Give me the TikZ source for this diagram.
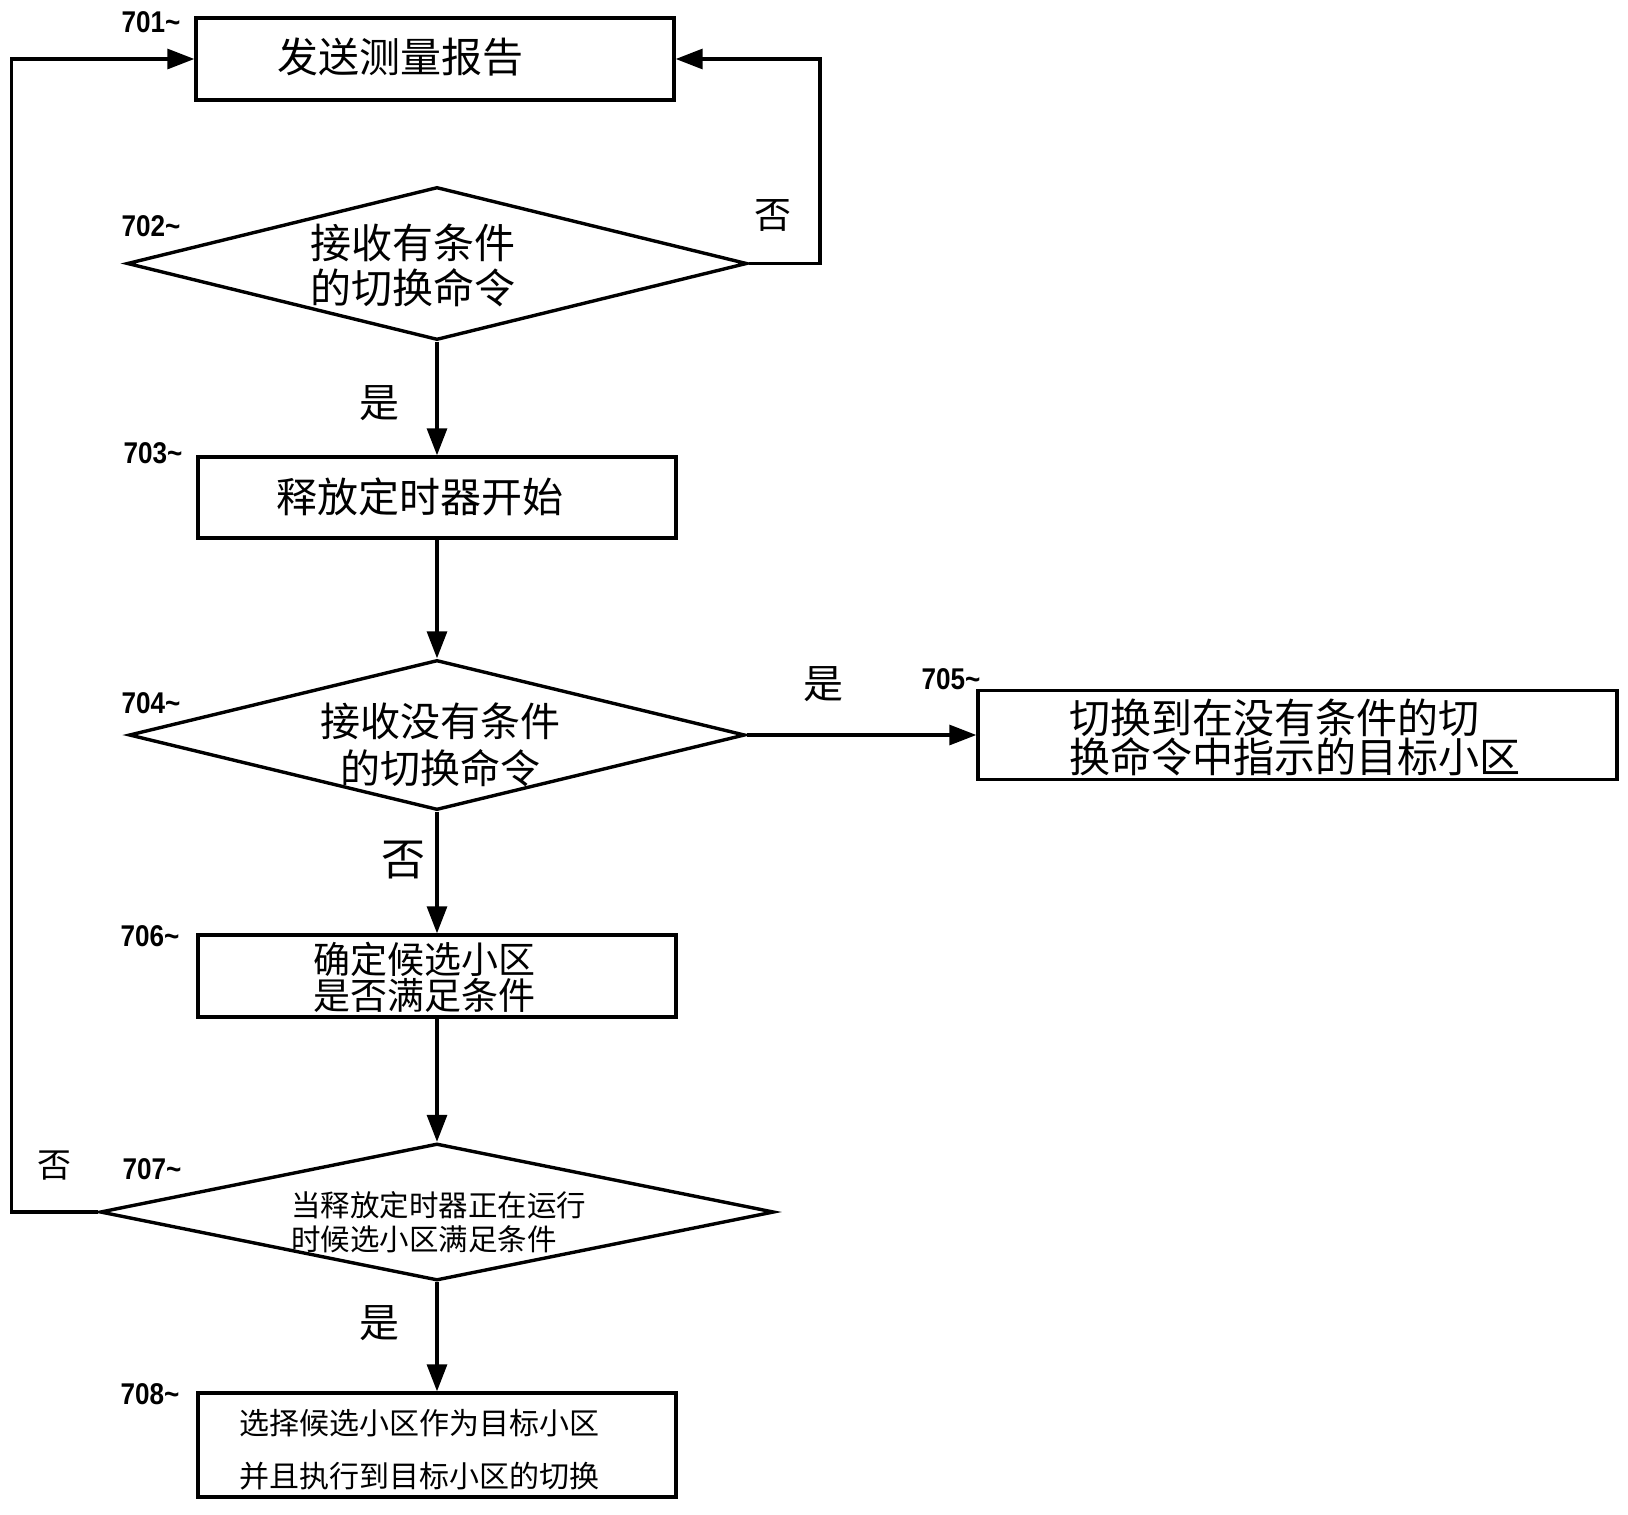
\documentclass[tikz,border=0pt]{standalone}
\usepackage{fontspec}
\newfontfamily\cjk{Noto Sans CJK SC}
\newfontfamily\numfont{Liberation Sans}
\usetikzlibrary{arrows.meta,shapes.geometric}
\tikzset{
  boxnode/.style={draw, line width=3.4pt, rectangle, inner sep=0pt, minimum width=478pt},
  decnode/.style={draw, line width=3.4pt, diamond, inner sep=0pt},
  txt/.style={inner sep=0pt, align=center},
  steplabel/.style={inner sep=0pt, xscale=0.87, transform shape, font=\numfont\bfseries\fontsize{30}{32}\selectfont},
  arr/.style={line width=3.2pt, -{Triangle[length=27pt,width=20pt]}},
  plain/.style={line width=3.2pt}
}
\begin{document}
\begin{tikzpicture}[x=1pt,y=-1pt]
\useasboundingbox (0,0) rectangle (1628,1515);
\fill[white] (0,0) rectangle (1628,1515);

% boxes
\node[boxnode, minimum height=82pt] (b701) at (435,59) {};
\node[boxnode, minimum height=81pt] (b703) at (437,497.5) {};
\node[boxnode, minimum width=639pt, minimum height=89pt] (b705) at (1297.5,735) {};
\node[boxnode, minimum height=82pt] (b706) at (437,976) {};
\node[boxnode, minimum height=104pt] (b708) at (437,1445) {};

% diamonds
\node[decnode, minimum width=620pt, minimum height=153pt] (d702) at (437,263.5) {};
\node[decnode, minimum width=616pt, minimum height=150pt] (d704) at (437,735) {};
\node[decnode, minimum width=674pt, minimum height=137pt] (d707) at (437,1212) {};

% texts
\node[txt, font=\cjk\fontsize{41}{45}\selectfont] (t701) at (400,57) {发送测量报告};
\node[txt, font=\cjk\fontsize{41}{45}\selectfont] (t702) at (413,265.5) {接收有条件\\的切换命令};
\node[txt, font=\cjk\fontsize{41}{45}\selectfont] (t703) at (420,497) {释放定时器开始};
\node[txt, font=\cjk\fontsize{40}{47}\selectfont] (t704) at (440,744.5) {接收没有条件\\的切换命令};
\node[txt, align=left, anchor=west, font=\cjk\fontsize{41}{38}\selectfont] (t705) at (1069,737.5) {切换到在没有条件的切\\换命令中指示的目标小区};
\node[txt, font=\cjk\fontsize{37}{36}\selectfont] (t706) at (424,977.5) {确定候选小区\\是否满足条件};
\node[txt, align=left, anchor=west, font=\cjk\fontsize{29.5}{34}\selectfont] (t707) at (291,1222) {当释放定时器正在运行\\时候选小区满足条件};
\node[txt, font=\cjk\fontsize{30}{53}\selectfont] (t708) at (419,1449.5) {选择候选小区作为目标小区\\并且执行到目标小区的切换};

% step labels
\node[steplabel] (l701) at (151,22) {701\string~};
\node[steplabel] (l702) at (151,226) {702\string~};
\node[steplabel] (l703) at (153,453) {703\string~};
\node[steplabel] (l704) at (151,703) {704\string~};
\node[steplabel] (l705) at (951,679) {705\string~};
\node[steplabel] (l706) at (150,936) {706\string~};
\node[steplabel] (l707) at (152,1169) {707\string~};
\node[steplabel] (l708) at (150,1394) {708\string~};

% yes/no labels
\node[txt, font=\cjk\fontsize{37}{40}\selectfont] (n702) at (773,215) {否};
\node[txt, font=\cjk\fontsize{40}{44}\selectfont] (y702) at (379,403) {是};
\node[txt, font=\cjk\fontsize{40}{44}\selectfont] (y704) at (823,684) {是};
\node[txt, font=\cjk\fontsize{44}{48}\selectfont] (n704) at (403,860) {否};
\node[txt, font=\cjk\fontsize{34}{38}\selectfont] (n707) at (54,1166) {否};
\node[txt, font=\cjk\fontsize{40}{44}\selectfont] (y707) at (379,1323) {是};

% corner coordinates
\coordinate (rc) at (820,59);
\coordinate (lc) at (11.5,59);

% connectors
\draw[arr] (d702.south) -- (b703.north);
\draw[arr] (b703.south) -- (d704.north);
\draw[arr] (d704.east) -- (b705.west);
\draw[arr] (d704.south) -- (b706.north);
\draw[arr] (b706.south) -- (d707.north);
\draw[arr] (d707.south) -- (b708.north);
\draw[arr] (d702.east) -| (rc) -- (b701.east);
\draw[arr] (d707.west) -| (lc) -- (b701.west);
\end{tikzpicture}
\end{document}
